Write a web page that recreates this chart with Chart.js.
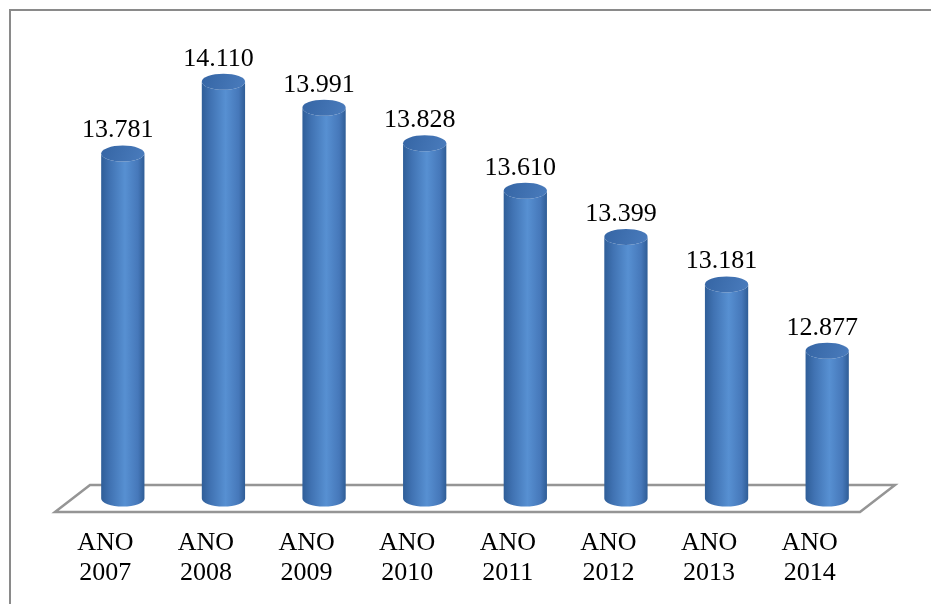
<!DOCTYPE html>
<html>
<head>
<meta charset="utf-8">
<title>ANO 2007 – 2014</title>
<script src="https://cdn.jsdelivr.net/npm/chart.js@4/dist/chart.umd.min.js"></script>
<style>
  html, body { margin: 0; padding: 0; background: #ffffff; }
  canvas { display: block; }
</style>
</head>
<body>
<canvas id="c" width="931" height="604"></canvas>
<script>
// Yearly totals
const years = ["2007", "2008", "2009", "2010", "2011", "2012", "2013", "2014"];
const totals = [13781, 14110, 13991, 13828, 13610, 13399, 13181, 12877];
const labelPrefix = "ANO";

// Value axis range
const axisMin = 12200;
const axisMax = 14400;

const categoryLabels = years.map(y => [labelPrefix, y]);

// Thousands separator "." (pt-BR style)
function fmt(v) {
  const s = String(Math.round(v));
  return s.replace(/\B(?=(\d{3})+(?!\d))/g, ".");
}

const DEPTH_X = 35, DEPTH_Y = 27;

// Outer frame, floor and cylinders of the 3D plot
const framePlugin = {
  id: 'frame3d',
  beforeDatasetsDraw(chart) {
    const ctx = chart.ctx;
    const a = chart.chartArea;
    ctx.save();
    // frame
    ctx.strokeStyle = '#8a8a8a';
    ctx.lineWidth = 2;
    ctx.beginPath();
    ctx.moveTo(10, chart.height);
    ctx.lineTo(10, 10);
    ctx.lineTo(chart.width, 10);
    ctx.stroke();
    // floor parallelogram
    ctx.strokeStyle = '#959595';
    ctx.lineWidth = 2.5;
    ctx.lineJoin = 'miter';
    ctx.beginPath();
    ctx.moveTo(a.left, a.bottom);
    ctx.lineTo(a.right, a.bottom);
    ctx.lineTo(a.right + DEPTH_X, a.bottom - DEPTH_Y);
    ctx.lineTo(a.left + DEPTH_X, a.bottom - DEPTH_Y);
    ctx.closePath();
    ctx.fillStyle = '#ffffff';
    ctx.fill();
    ctx.stroke();
    ctx.restore();
  },
  afterDatasetsDraw(chart) {
    const ctx = chart.ctx;
    const meta = chart.getDatasetMeta(0);
    const yScale = chart.scales.y;
    const basePx = yScale.getPixelForValue(axisMin);
    ctx.save();
    meta.data.forEach((bar, i) => {
      const w = bar.width;
      const rx = w / 2, ry = 8;
      const cx = bar.x + DEPTH_X / 2;
      const top = bar.y - DEPTH_Y / 2;
      const base = basePx - DEPTH_Y / 2;
      const left = cx - rx, right = cx + rx;

      // body
      const g = ctx.createLinearGradient(left, 0, right, 0);
      g.addColorStop(0, '#2f5e98');
      g.addColorStop(0.2, '#4072b2');
      g.addColorStop(0.55, '#5790d2');
      g.addColorStop(0.85, '#4678ba');
      g.addColorStop(1, '#2f5d96');
      ctx.beginPath();
      ctx.moveTo(left, top);
      ctx.lineTo(left, base);
      ctx.ellipse(cx, base, rx, ry, 0, Math.PI, 0, true);
      ctx.lineTo(right, top);
      ctx.ellipse(cx, top, rx, ry, 0, 0, Math.PI, false);
      ctx.closePath();
      ctx.fillStyle = g;
      ctx.fill();

      // top cap
      const gt = ctx.createLinearGradient(left, top - ry, right, top + ry);
      gt.addColorStop(0, '#3565a4');
      gt.addColorStop(1, '#4a7cbd');
      ctx.beginPath();
      ctx.ellipse(cx, top, rx, ry, 0, 0, Math.PI * 2);
      ctx.fillStyle = gt;
      ctx.fill();

      // value label
      ctx.fillStyle = '#000000';
      ctx.font = '26px "Liberation Serif", "Times New Roman", serif';
      ctx.textAlign = 'center';
      ctx.textBaseline = 'middle';
      ctx.fillText(fmt(totals[i]), cx - 5, top - 23);
    });
    ctx.restore();
  }
};

new Chart(document.getElementById('c'), {
  type: 'bar',
  data: {
    labels: categoryLabels,
    datasets: [{
      data: totals,
      backgroundColor: 'rgba(0,0,0,0)',
      borderWidth: 0,
      barPercentage: 0.43,
      categoryPercentage: 1
    }]
  },
  options: {
    responsive: false,
    animation: false,
    layout: { padding: { left: 55, right: 71, top: 32, bottom: 0 } },
    plugins: {
      legend: { display: false },
      tooltip: { enabled: false }
    },
    scales: {
      x: {
        grid: { display: false, drawTicks: false },
        border: { display: false },
        ticks: {
          color: '#000000',
          font: { family: '"Liberation Serif", "Times New Roman", serif', size: 26, lineHeight: 1.12 },
          padding: 17,
          maxRotation: 0,
          autoSkip: false
        },
        afterFit(scale) { scale.height = 92; }
      },
      y: {
        display: false,
        min: axisMin,
        max: axisMax
      }
    }
  },
  plugins: [framePlugin]
});
</script>
</body>
</html>
